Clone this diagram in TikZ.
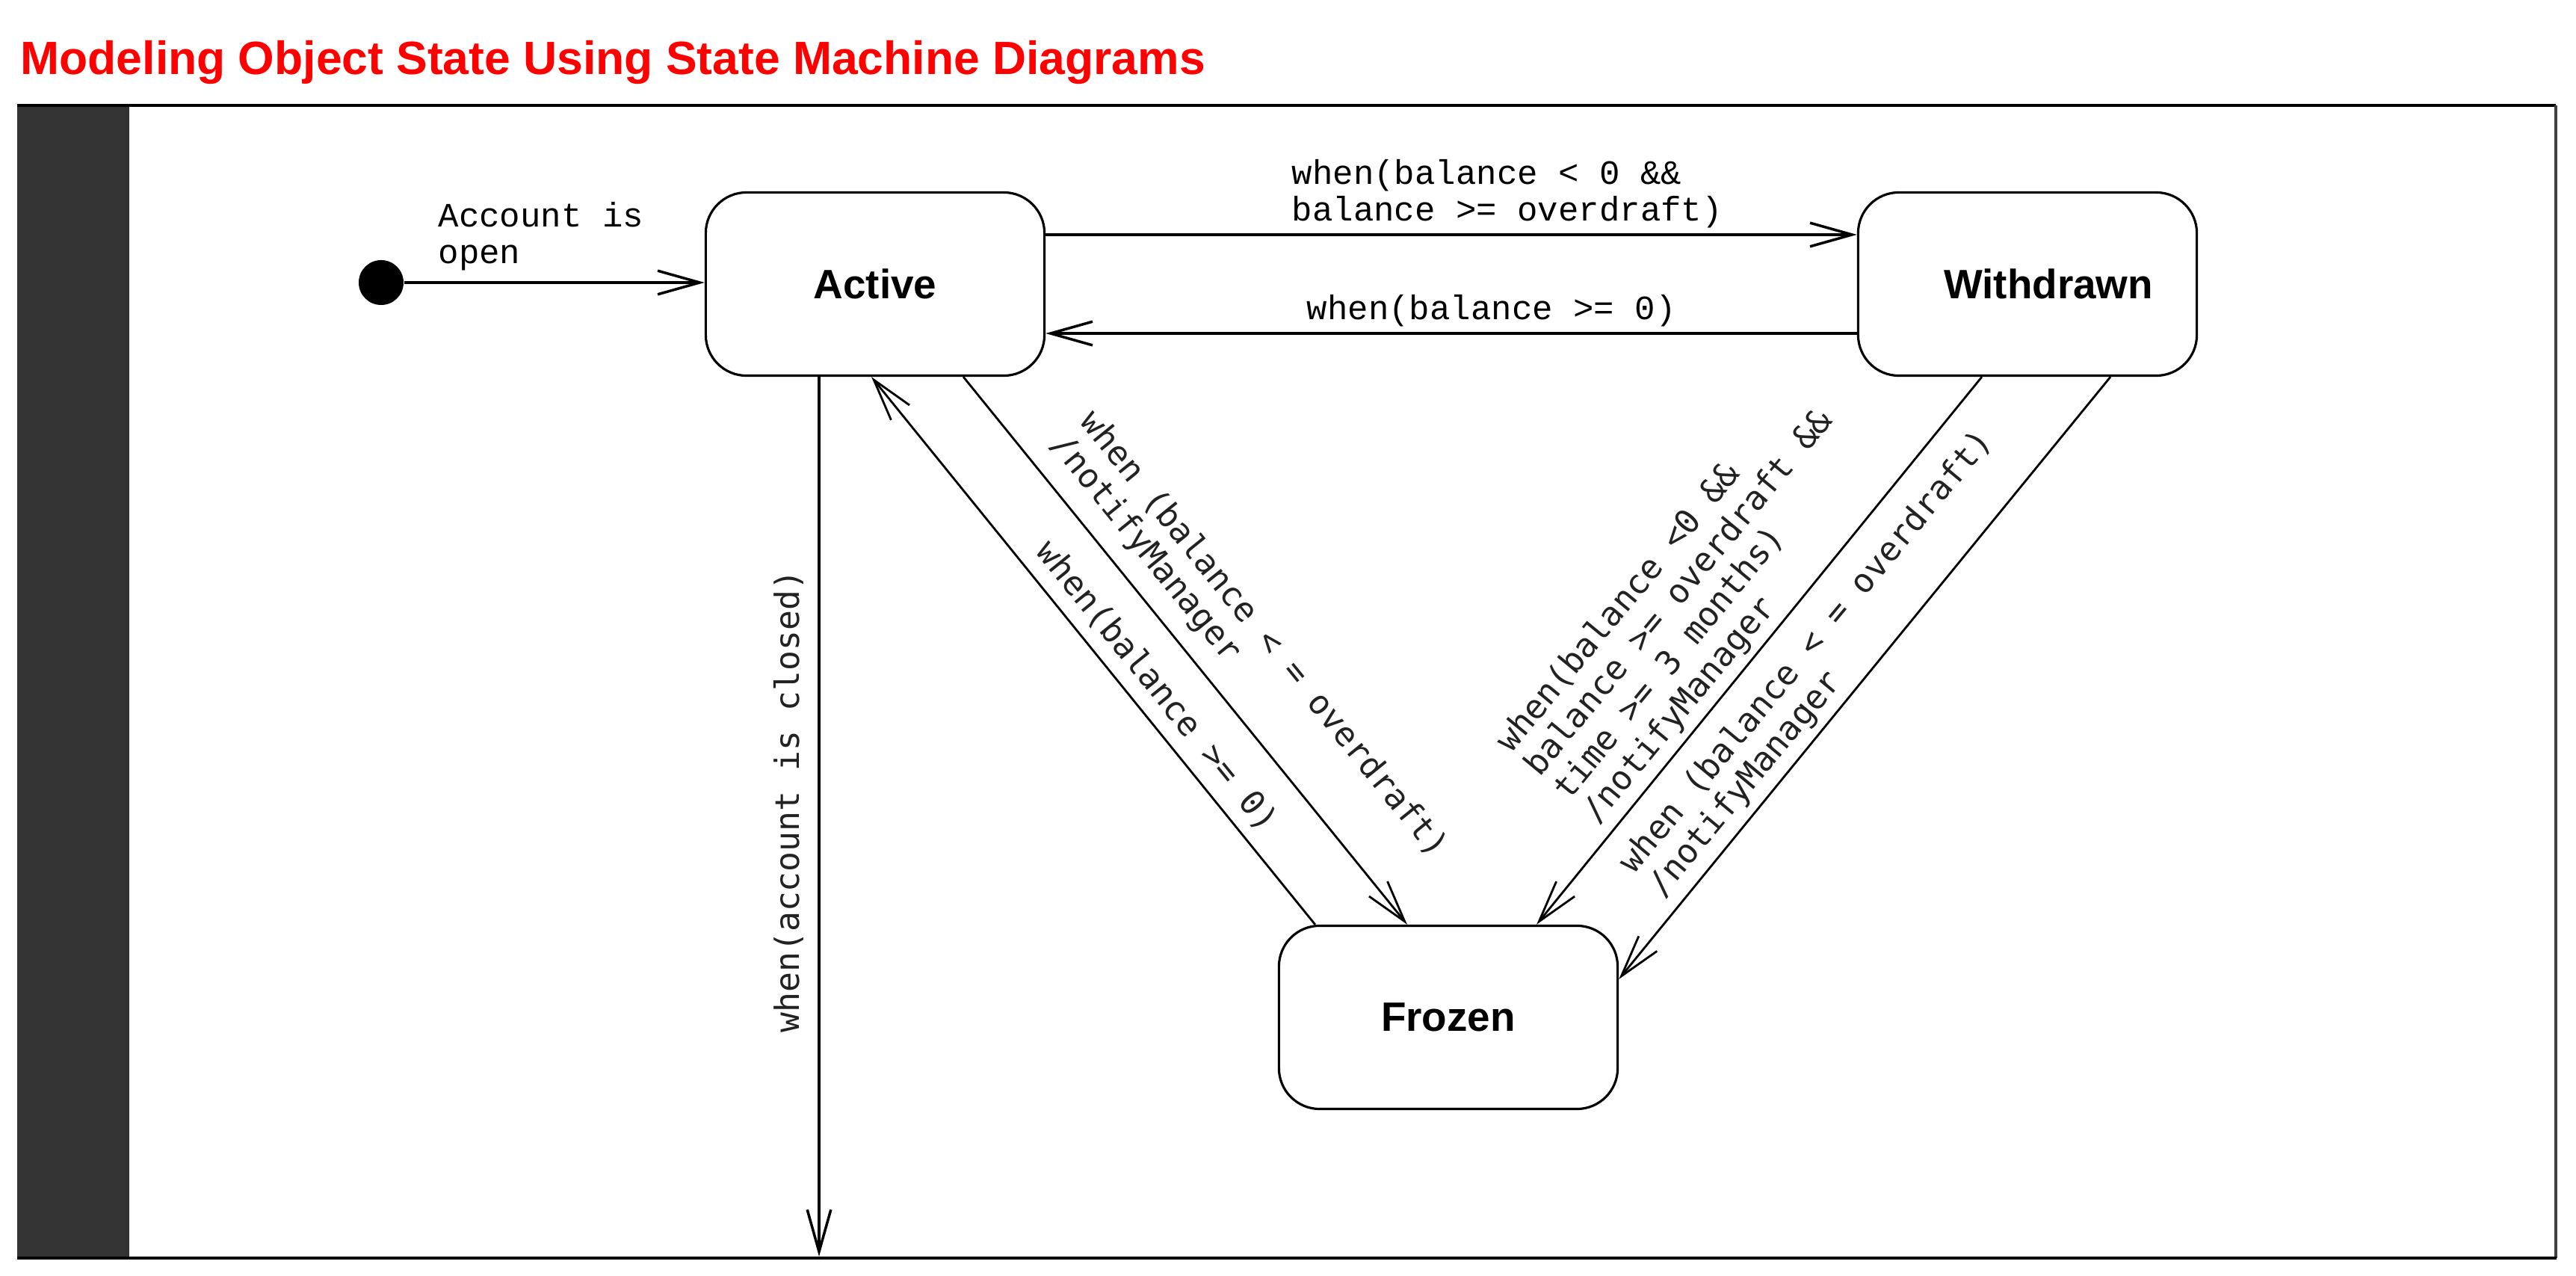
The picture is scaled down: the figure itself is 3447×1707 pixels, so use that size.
\documentclass[tikz,border=0pt]{standalone}
\usepackage{fontspec}
\setmainfont{Liberation Sans}
\newfontfamily\lmono{Liberation Mono}
\newfontfamily\dmono{DejaVu Sans Mono}
\usetikzlibrary{arrows.meta}
\definecolor{barclr}{HTML}{333333}
\definecolor{titlered}{HTML}{FF0000}
\definecolor{lblclr}{HTML}{222222}
\definecolor{edgeclr}{HTML}{404040}
\begin{document}
\begin{tikzpicture}[x=0.01cm,y=-0.01cm,
  statebox/.style={draw, line width=0.9pt, rounded corners=15.5pt, minimum width=4.53cm, minimum height=2.45cm, font=\fontsize{15.6}{18}\selectfont\bfseries, inner sep=0pt},
  thickarrow/.style={line width=1.3pt, -{Straight Barb[length=16pt,width=9pt,line width=1pt]}},
  thinarrow/.style={line width=0.8pt, -{Straight Barb[length=16pt,width=9pt]}},
  hlabel/.style={font=\lmono\fontsize{13}{13.9}\selectfont, inner sep=0pt, align=left},
  rlabel/.style={font=\dmono\fontsize{12.7}{14.2}\selectfont, text=lblclr, inner sep=0pt, align=left},
]
\useasboundingbox (0,0) rectangle (3447,1707);
% title
\node[anchor=base west, inner sep=0pt, text=titlered, font=\fontsize{17.75}{20}\selectfont\bfseries] (title) at (27,100) {Modeling Object State Using State Machine Diagrams};
% frame
\fill[barclr] (23,140) rectangle (173,1683);
\draw[line width=0.9pt] (23,141) -- (3420,141);
\draw[line width=0.9pt, edgeclr] (3420,141) -- (3420,1683);
\draw[line width=0.9pt] (23,1683) -- (3421,1683);
% states
\node[statebox] (active) at (1171,380) {Active};
\node[statebox] (withdrawn) at (2713,380) {\kern16pt Withdrawn};
\node[statebox] (frozen) at (1938,1361) {Frozen};
\node[circle, fill=black, inner sep=0pt, minimum size=0.6cm] (init) at (510,378) {};
% connectors
\draw[thickarrow] (init.east) -- (init.east -| active.west);
\draw[thickarrow] ([yshift=0.66cm]active.east) -- ([yshift=0.66cm]withdrawn.west);
\draw[thickarrow] ([yshift=-0.66cm]withdrawn.west) -- ([yshift=-0.66cm]active.east);
\coordinate (closedend) at (1096,1681);
\draw[thickarrow] (active.south -| closedend) -- (closedend);
\draw[thinarrow] ([xshift=0.5cm]frozen.north west) -- ([xshift=-0.05cm]active.south);
\draw[thinarrow] ([xshift=1.18cm]active.south) -- ([xshift=-0.55cm]frozen.north);
\draw[thinarrow] ([xshift=-0.61cm]withdrawn.south) -- ([xshift=1.18cm]frozen.north);
\draw[thinarrow] ([xshift=1.11cm]withdrawn.south) -- ([yshift=0.51cm]frozen.east);
% labels
\node[hlabel, anchor=north west] (lopen) at (586,270) {Account is\\open};
\node[hlabel, anchor=north west] (ltop) at (1728,213) {when(balance < 0 \&\&\\balance >= overdraft)};
\node[hlabel, anchor=north west] (lback) at (1748,394) {when(balance >= 0)};
\node[rlabel, rotate=-51, anchor=west] (lfreeze) at (1433,572) {when (balance < = overdraft)\\/notifyManager};
\node[rlabel, rotate=-51] (lunfreeze) at (1548,918) {when(balance >= 0)};
\node[rlabel, rotate=90] (lclosed) at (1055,1072) {when(account is closed)};
\node[rlabel, rotate=50.5, anchor=west] (lwfreeze) at (2070,1049) {when(balance <0 \&\&\\balance >= overdraft \&\&\\time >= 3 months)\\/notifyManager};
\node[rlabel, rotate=50.3, anchor=west] (lwfreeze2) at (2196,1179) {when (balance < = overdraft)\\/notifyManager};
\end{tikzpicture}
\end{document}
